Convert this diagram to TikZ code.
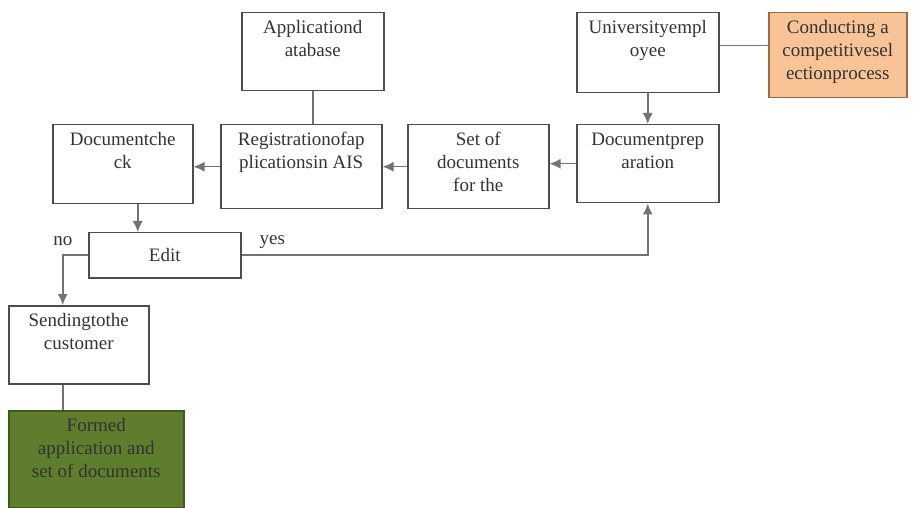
\documentclass[tikz,border=0pt]{standalone}
\usepackage{fontspec}
\setmainfont{Liberation Serif}
\usetikzlibrary{positioning,arrows.meta}

\definecolor{orangefill}{HTML}{F8C396}
\definecolor{orangeline}{HTML}{9C6A40}
\definecolor{greenfill}{HTML}{5E7D2D}
\definecolor{greenline}{HTML}{3F5A1C}

% text sits at the top of each box
\newcommand{\boxtxt}[3]{\parbox[c][#2][t]{#1}{\centering\rule{0pt}{21pt}#3}}

\begin{document}
\begin{tikzpicture}[x=1pt, y=-1pt, font=\rmfamily\fontsize{19}{23}\selectfont,
    >={Latex[length=11pt, width=10pt]}]
\tikzset{
    blk/.style={draw=black!70, line width=1.5pt, inner sep=0pt,
        text=black!80, fill=white, anchor=north west},
    conn/.style={draw=black!55, line width=1.5pt}
}
\useasboundingbox (0,0) rectangle (914,508);

% Top row
\node[blk] (appdb) at (241,12) {\boxtxt{142pt}{78pt}{Applicationd\\atabase}};
\node[blk] (univ) at (576,12) {\boxtxt{142pt}{80pt}{Universityempl\\oyee}};
\node[blk,
    fill=orangefill,
    draw=orangeline
] (select) at (768,12) {\boxtxt{138pt}{85pt}{Conducting a\\competitivesel\\ectionprocess}};

% Second row
\node[blk] (prep) at (576,124) {\boxtxt{142pt}{78pt}{Documentprep\\aration}};
\node[blk] (docset) at (407,124) {\boxtxt{141pt}{84pt}{Set of\\documents\\for the}};
\node[blk] (regais) at (220,124) {\boxtxt{161pt}{84pt}{Registrationofap\\plicationsin AIS}};
\node[blk] (check) at (52,124) {\boxtxt{140pt}{79pt}{Documentche\\ck}};

% Edit
\node[blk,
    minimum width=152pt,
    minimum height=45pt
] (edit) at (88,232) {Edit};

% Bottom
\node[blk] (send) at (8,305) {\boxtxt{140pt}{78pt}{Sendingtothe\\customer}};
\node[blk,
    fill=greenfill,
    draw=greenline
] (formed) at (8,410) {\boxtxt{175pt}{97pt}{Formed\\application and\\set of documents}};

% Arrows
\draw[conn] (appdb.south) -- (appdb.south |- regais.north);
\draw[conn, ->] (univ.south) -- (prep.north);
\draw[conn] ([yshift=7pt]univ.east) -- ([yshift=7pt]univ.east -| select.west);
\draw[conn, ->] (prep.west) -- (prep.west -| docset.east);
\draw[conn, ->] (docset.west) -- (docset.west -| regais.east);
\draw[conn, ->] (regais.west) -- (regais.west -| check.east);
\draw[conn, ->] ([xshift=15pt]check.south) -- ([xshift=15pt]check.south |- edit.north);
\draw[conn, ->] (edit.east) -| node[pos=0, anchor=south west, xshift=14pt, yshift=3pt, text=black!80] {yes} (prep.south);
\draw[conn, ->] (edit.west) -| node[pos=0.5, above=5pt, text=black!80] {no} ([xshift=-16pt]send.north);
\draw[conn] ([xshift=-16pt]send.south) -- ([xshift=-16pt]send.south |- formed.north);

\end{tikzpicture}
\end{document}
